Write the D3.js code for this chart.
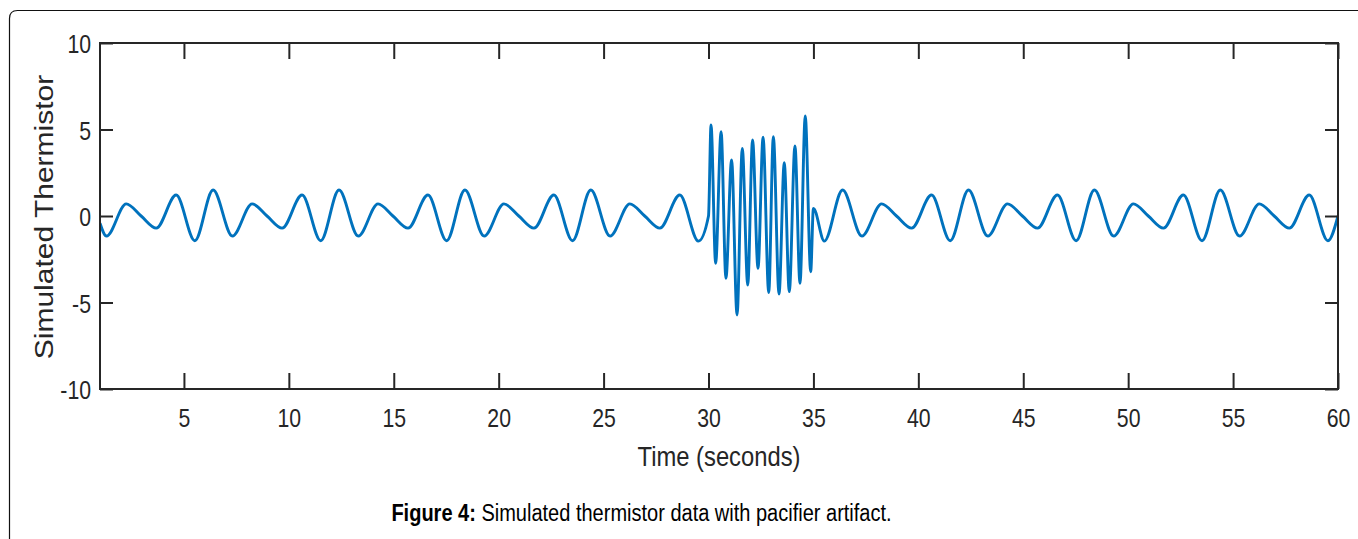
<!DOCTYPE html>
<html>
<head>
<meta charset="utf-8">
<script src="https://cdn.jsdelivr.net/npm/d3@7"></script>
<style>
  body { margin: 0; background: #fff; }
  svg text { font-family: Arial, "Liberation Sans", sans-serif; }
</style>
</head>
<body>
<div id="chart"></div>
<script>
// breathing signal before the pacifier artifact (peaks / troughs)
const beforeTime = [1.00, 1.31, 2.25, 2.96, 3.68, 4.63, 5.52, 6.39, 7.31,
  8.25, 8.96, 9.68, 10.63, 11.52, 12.39, 13.31,
  14.25, 14.96, 15.68, 16.63, 17.52, 18.39, 19.31,
  20.25, 20.96, 21.68, 22.63, 23.52, 24.39, 25.31,
  26.25, 26.96, 27.68, 28.63, 29.52];
const beforeValue = [-0.42, -1.16, 0.70, 0.00, -0.70, 1.21, -1.43, 1.50, -1.16,
  0.70, 0.00, -0.70, 1.21, -1.43, 1.50, -1.16,
  0.70, 0.00, -0.70, 1.21, -1.43, 1.50, -1.16,
  0.70, 0.00, -0.70, 1.21, -1.43, 1.50, -1.16,
  0.70, 0.00, -0.70, 1.21, -1.45];

// pacifier artifact, 30 - 35 s
const artifactTime = [30.00, 30.12, 30.34, 30.60, 30.83, 31.10, 31.36, 31.61, 31.87,
  32.10, 32.36, 32.60, 32.87, 33.09, 33.36, 33.61, 33.85, 34.12, 34.36, 34.61, 34.87, 35.00];
const artifactValue = [0.00, 5.26, -2.74, 4.87, -3.60, 3.24, -5.72, 3.91, -3.99,
  4.39, -3.03, 4.55, -4.43, 4.59, -4.51, 3.08, -4.37, 4.05, -3.89, 5.78, -3.22, 0.44];

// breathing signal after the artifact
const afterTime = [35.52, 36.39, 37.31,
  38.25, 38.96, 39.68, 40.63, 41.52, 42.39, 43.31,
  44.25, 44.96, 45.68, 46.63, 47.52, 48.39, 49.31,
  50.25, 50.96, 51.68, 52.63, 53.52, 54.39, 55.31,
  56.25, 56.96, 57.68, 58.63, 59.52, 60.00];
const afterValue = [-1.45, 1.50, -1.16,
  0.70, 0.00, -0.70, 1.21, -1.43, 1.50, -1.16,
  0.70, 0.00, -0.70, 1.21, -1.43, 1.50, -1.16,
  0.70, 0.00, -0.70, 1.21, -1.43, 1.50, -1.16,
  0.70, 0.00, -0.70, 1.21, -1.43, 0.00];

const xTicks = [5, 10, 15, 20, 25, 30, 35, 40, 45, 50, 55, 60];
const yTicks = [-10, -5, 0, 5, 10];
const xLabel = "Time (seconds)";
const yLabel = "Simulated Thermistor";
const captionBold = "Figure 4:";
const captionText = " Simulated thermistor data with pacifier artifact.";

const totalWidth = 1358, totalHeight = 539;
const margin = {top: 43, right: 20, bottom: 150, left: 100};
const width = 1238, height = 346;
const squeeze = 0.85; // the figure text is horizontally condensed
const ink = "#262626";

function buildSeries() {
  var t = beforeTime.concat(artifactTime, afterTime);
  var v = beforeValue.concat(artifactValue, afterValue);
  return t.map(function(d, i) { return {t: d, v: v[i]}; });
}

// plain hyphen minus like the original, not d3's unicode minus
function plainFormat(d) { return String(d); }

var svg = d3.select("#chart")
  .append("svg")
    .attr("width", totalWidth)
    .attr("height", totalHeight);

svg.append("rect")
  .attr("width", totalWidth)
  .attr("height", totalHeight)
  .attr("fill", "#fff");

// rounded frame around the figure, runs off the right and bottom
svg.append("path")
  .attr("d", "M9.5," + totalHeight + " V18.5 Q9.5,10.5 17.5,10.5 H" + totalWidth)
  .attr("fill", "none")
  .attr("stroke", "#111")
  .attr("stroke-width", 1.2);

var g = svg.append("g")
  .attr("transform", "translate(" + margin.left + "," + margin.top + ")");

var x = d3.scaleLinear().domain([1, 60]).range([0, width]);
var y = d3.scaleLinear().domain([-10, 10]).range([height, 0]);

g.append("clipPath").attr("id", "plot-clip")
  .append("rect").attr("width", width).attr("height", height);

var line = d3.line()
  .x(function(d) { return x(d.t); })
  .y(function(d) { return y(d.v); })
  .curve(d3.curveMonotoneX);

g.append("path")
  .datum(buildSeries())
  .attr("clip-path", "url(#plot-clip)")
  .attr("fill", "none")
  .attr("stroke", "#0072BD")
  .attr("stroke-width", 2.9)
  .attr("stroke-linejoin", "round")
  .attr("d", line);

// axes, ticks pointing inwards on all four sides
var xAxis = g.append("g")
  .attr("transform", "translate(0," + height + ")")
  .call(d3.axisBottom(x).tickValues(xTicks).tickFormat(plainFormat)
    .tickSizeInner(-16).tickSizeOuter(0).tickPadding(20));
xAxis.selectAll("text")
  .attr("transform", "scale(" + squeeze + ",1)")
  .style("font-size", "25px");

var yAxis = g.append("g")
  .call(d3.axisLeft(y).tickValues(yTicks).tickFormat(plainFormat)
    .tickSizeInner(-13).tickSizeOuter(0).tickPadding(9));
yAxis.selectAll("text")
  .attr("x", -9 / squeeze)
  .attr("dy", "0.38em")
  .attr("transform", "scale(" + squeeze + ",1)")
  .style("font-size", "25px");

g.append("g")
  .call(d3.axisTop(x).tickValues(xTicks).tickSizeInner(-16).tickSizeOuter(0).tickFormat(""));
g.append("g")
  .attr("transform", "translate(" + width + ",0)")
  .call(d3.axisRight(y).tickValues(yTicks).tickSizeInner(-13).tickSizeOuter(0).tickFormat(""));

g.selectAll(".domain").remove();
g.selectAll(".tick line").attr("stroke", ink).attr("stroke-width", 2);
g.selectAll(".tick text").attr("fill", ink);

g.append("rect")
  .attr("width", width)
  .attr("height", height)
  .attr("fill", "none")
  .attr("stroke", ink)
  .attr("stroke-width", 2);

// axis titles
g.append("text")
  .attr("transform", "translate(" + (width / 2) + "," + (height + 77) + ") scale(" + squeeze + ",1)")
  .attr("text-anchor", "middle")
  .attr("fill", ink)
  .style("font-size", "28px")
  .text(xLabel);

g.append("text")
  .attr("transform", "translate(" + (53 - margin.left) + "," + (height / 2 + 1) + ") scale(" + squeeze + ",1) rotate(-90)")
  .attr("text-anchor", "middle")
  .attr("fill", ink)
  .style("font-size", "30px")
  .text(yLabel);

// figure caption
var caption = svg.append("text")
  .attr("transform", "translate(641.5,521) scale(0.87,1)")
  .attr("text-anchor", "middle")
  .attr("fill", "#000")
  .style("font-size", "23px");
caption.append("tspan").style("font-weight", "bold").text(captionBold);
caption.append("tspan").text(captionText);
</script>
</body>
</html>
